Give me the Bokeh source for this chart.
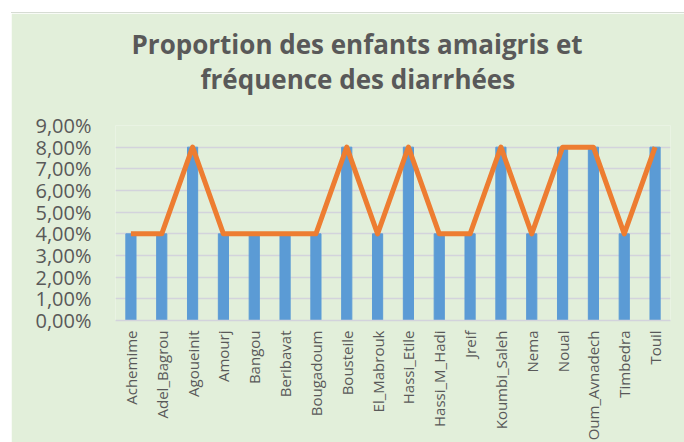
from bokeh.plotting import figure
from bokeh.models import FactorRange, Range1d, FixedTicker, Title, ColumnDataSource, Spacer
from bokeh.layouts import row, column
from bokeh.embed import file_html
from bokeh.resources import INLINE
import math

communes = ["Achemime", "Adel_Bagrou", "Agoueinit", "Amourj", "Bangou", "Beribavat",
            "Bougadoum", "Bousteile", "El_Mabrouk", "Hassi_Etile", "Hassi_M_Hadi", "Jreif",
            "Koumbi_Saleh", "Nema", "Noual", "Oum_Avnadech", "Timbedra", "Touil"]
enfants_amaigris = [0.04, 0.04, 0.08, 0.04, 0.04, 0.04, 0.04, 0.08, 0.04, 0.08, 0.04, 0.04,
                    0.08, 0.04, 0.08, 0.08, 0.04, 0.08]
frequence_diarrhees = [0.04, 0.04, 0.08, 0.04, 0.04, 0.04, 0.04, 0.08, 0.04, 0.08, 0.04, 0.04,
                       0.08, 0.04, 0.08, 0.08, 0.04, 0.08]
y_ticks = [0.0, 0.01, 0.02, 0.03, 0.04, 0.05, 0.06, 0.07, 0.08, 0.09]
y_tick_labels = ["0,00%", "1,00%", "2,00%", "3,00%", "4,00%", "5,00%", "6,00%", "7,00%", "8,00%", "9,00%"]
title_lines = ["Proportion des enfants amaigris et", "fréquence des diarrhées"]

BG = "#e2efda"
FONT = "Open Sans"
TXT = "#595959"

src = ColumnDataSource(dict(x=communes, bars=enfants_amaigris, line=frequence_diarrhees))

p = figure(width=673, height=430, output_backend="svg", toolbar_location=None,
           x_range=FactorRange(*communes, range_padding=0), y_range=Range1d(0, 0.09),
           min_border_left=104, min_border_right=14, min_border_top=112, min_border_bottom=123)
p.background_fill_color = BG
p.border_fill_color = BG
p.outline_line_color = None
p.styles = {"border-top": "1px solid #d6dcd3"}

p.vbar(x="x", top="bars", width=0.33, color="#5b9bd5", source=src)
p.line(x="x", y="line", line_color="#ed7d31", line_width=5, line_join="round", source=src)

t2 = Title(text=title_lines[1], align="left", offset=85, standoff=57,
           text_font=FONT, text_font_size="26px", text_font_style="bold", text_color=TXT)
t1 = Title(text=title_lines[0], align="left", offset=16, standoff=-63,
           text_font=FONT, text_font_size="26px", text_font_style="bold", text_color=TXT)
p.add_layout(t2, "above")
p.add_layout(t1, "above")

p.yaxis.ticker = FixedTicker(ticks=y_ticks)
p.yaxis.major_label_overrides = {tk: lb for tk, lb in zip(y_ticks, y_tick_labels)}
p.yaxis.axis_line_color = None
p.yaxis.major_tick_line_color = None
p.yaxis.major_tick_out = 0
p.yaxis.major_tick_in = 0
p.yaxis.minor_tick_line_color = None
p.yaxis.major_label_standoff = 24
p.yaxis.major_label_text_font = FONT
p.yaxis.major_label_text_font_size = "20px"
p.yaxis.major_label_text_color = TXT

p.xaxis.axis_line_color = "#d3d3dc"
p.xaxis.axis_line_width = 1.5
p.xaxis.major_tick_line_color = None
p.xaxis.major_tick_out = 0
p.xaxis.major_tick_in = 0
p.xaxis.minor_tick_line_color = None
p.xaxis.major_label_orientation = math.pi / 2
p.xaxis.major_label_standoff = 10
p.xaxis.major_label_text_font = FONT
p.xaxis.major_label_text_font_size = "15px"
p.xaxis.major_label_text_color = TXT

p.xgrid.grid_line_color = None
p.ygrid.grid_line_color = "#d3d3dc"
p.ygrid.grid_line_width = 1.5

layout = column(Spacer(height=12), row(Spacer(width=11), p))
open("out.html", "w").write(file_html(layout, INLINE))
